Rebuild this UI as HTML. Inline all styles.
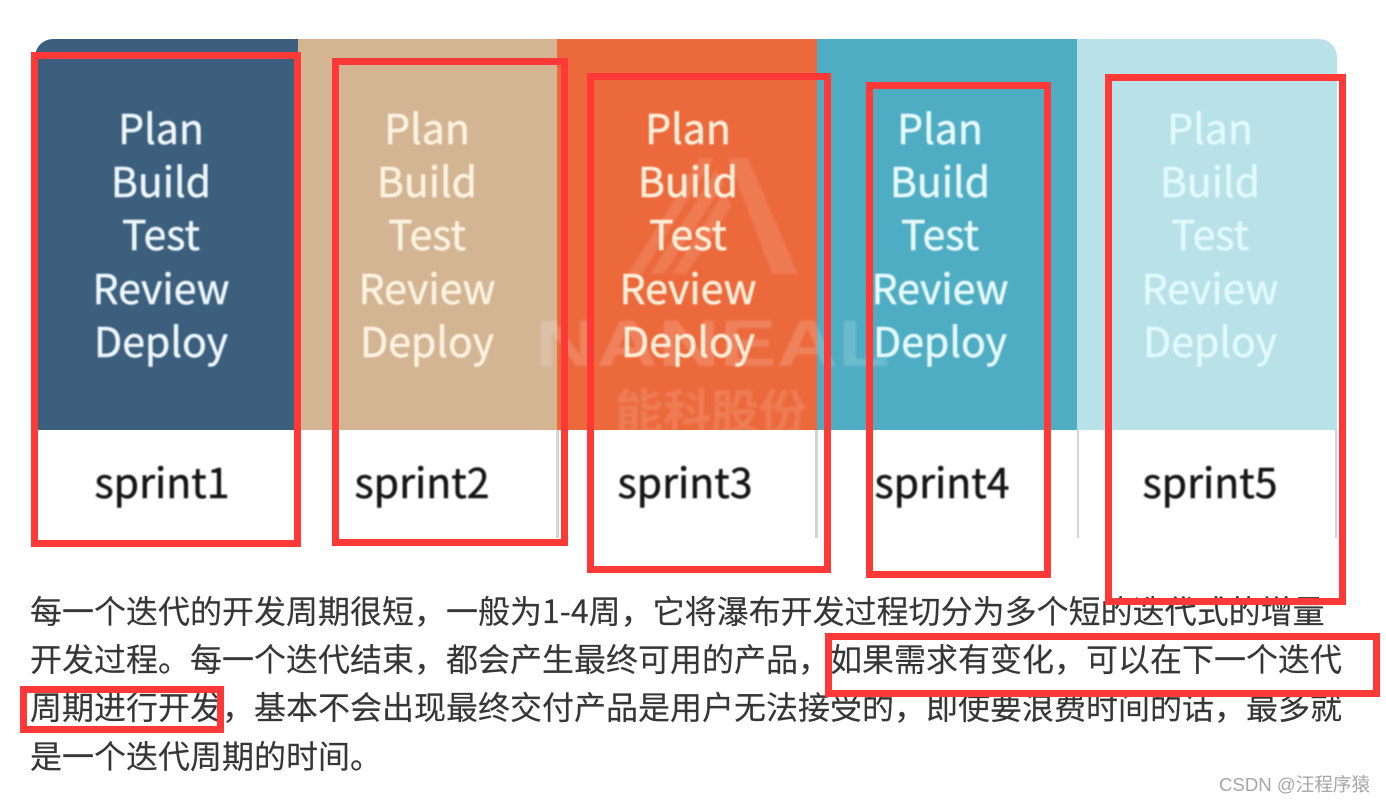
<!DOCTYPE html>
<html lang="zh">
<head>
<meta charset="utf-8">
<style>
html,body{margin:0;padding:0;background:#fff;}
#p{position:relative;width:1386px;height:804px;overflow:hidden;background:#fff;font-family:"Liberation Sans","Noto Sans CJK SC",sans-serif;}
.a{position:absolute;}
.col{position:absolute;top:39px;height:391px;}
.sep{position:absolute;top:430px;height:108px;width:3px;background:#d4d4d4;}
.t{position:absolute;width:260px;text-align:center;font-family:"Noto Sans CJK SC",sans-serif;font-size:41px;line-height:53.2px;top:100px;filter:blur(.7px);-webkit-text-stroke:.5px currentColor;}
.s{position:absolute;width:260px;text-align:center;font-family:"Noto Sans CJK SC",sans-serif;font-size:41px;line-height:53px;top:454px;color:#161616;filter:blur(.7px);-webkit-text-stroke:.5px currentColor;}
.r{position:absolute;box-sizing:border-box;border:7px solid #ff3838;}
.l{position:absolute;left:30px;white-space:nowrap;font-family:"Noto Sans CJK SC",sans-serif;font-size:32px;line-height:48px;color:#363636;-webkit-text-stroke:.15px currentColor;}
</style>
</head>
<body>
<div id="p">
  <div class="col" style="left:35px;width:263px;background:#3b5f7d;border-top-left-radius:18px;"></div>
  <div class="col" style="left:298px;width:259px;background:#d4b593;"></div>
  <div class="col" style="left:557px;width:260px;background:#ec693b;"></div>
  <div class="col" style="left:817px;width:260px;background:#4fadc3;"></div>
  <div class="col" style="left:1077px;width:260px;background:#b8e1e8;border-top-right-radius:18px;"></div>

  <svg class="a" style="left:0;top:0;filter:blur(1px);" width="1386" height="804">
    <g fill="#fff" opacity=".12">
      <polygon points="628,274 700,158 714,158 642,274"/>
      <polygon points="650,274 716,170 724,184 664,274"/>
      <polygon points="672,274 724,192 732,206 686,274"/>
      <polygon points="728,158 748,158 798,274 772,274"/>
    </g>
    <text x="535" y="366" textLength="355" lengthAdjust="spacingAndGlyphs" font-family="Liberation Sans" font-weight="700" font-size="66" fill="#fff" opacity=".17">NANEAL</text>
    <text x="615" y="429" font-family="Noto Sans CJK SC" font-weight="700" font-size="48" fill="#fff" opacity=".13">能科股份</text>
  </svg>

  <div class="sep" style="left:35px;width:2px;"></div>
  <div class="sep" style="left:556px;"></div>
  <div class="sep" style="left:815px;"></div>
  <div class="sep" style="left:1077px;width:2px;"></div>
  <div class="sep" style="left:1335px;width:2px;"></div>

  <div class="t" style="left:31px;color:#eef6fb;">Plan<br>Build<br>Test<br>Review<br>Deploy</div>
  <div class="t" style="left:297px;color:#fbf3e2;">Plan<br>Build<br>Test<br>Review<br>Deploy</div>
  <div class="t" style="left:558px;color:#fdf0dc;">Plan<br>Build<br>Test<br>Review<br>Deploy</div>
  <div class="t" style="left:810px;color:#e8fafc;">Plan<br>Build<br>Test<br>Review<br>Deploy</div>
  <div class="t" style="left:1080px;color:#e2fafc;">Plan<br>Build<br>Test<br>Review<br>Deploy</div>

  <div class="s" style="left:32px;">sprint1</div>
  <div class="s" style="left:292px;">sprint2</div>
  <div class="s" style="left:555px;">sprint3</div>
  <div class="s" style="left:812px;">sprint4</div>
  <div class="s" style="left:1080px;">sprint5</div>

  <div class="l" style="top:586px;">每一个迭代的开发周期很短，一般为1-4周，它将瀑布开发过程切分为多个短的迭代式的增量</div>
  <div class="l" style="top:634px;">开发过程。每一个迭代结束，都会产生最终可用的产品，如果需求有变化，可以在下一个迭代</div>
  <div class="l" style="top:682px;">周期进行开发，基本不会出现最终交付产品是用户无法接受的，即使要浪费时间的话，最多就</div>
  <div class="l" style="top:731px;">是一个迭代周期的时间。</div>

  <div class="a" style="left:1219px;top:773px;font-size:18.6px;line-height:24px;color:#a6a6a6;white-space:nowrap;font-family:'Liberation Sans','Noto Sans CJK SC',sans-serif;">CSDN @汪程序猿</div>

  <div class="r" style="left:31px;top:52px;width:270px;height:495px;"></div>
  <div class="r" style="left:332px;top:58px;width:236px;height:488px;"></div>
  <div class="r" style="left:587px;top:73px;width:244px;height:500px;"></div>
  <div class="r" style="left:866px;top:82px;width:185px;height:496px;"></div>
  <div class="r" style="left:1105px;top:74px;width:241px;height:531px;"></div>
  <div class="r" style="left:825px;top:633px;width:555px;height:64px;"></div>
  <div class="r" style="left:20px;top:686px;width:204px;height:47px;"></div>
</div>
</body>
</html>
